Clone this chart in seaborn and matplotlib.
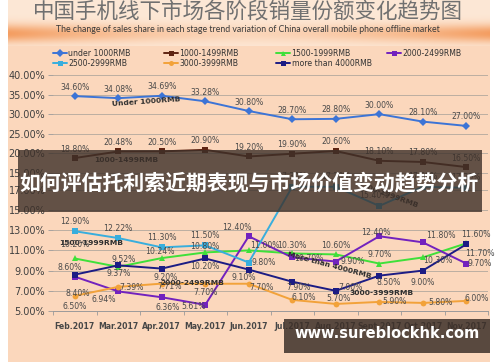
import numpy as np
import pandas as pd
import matplotlib
matplotlib.use("Agg")
import matplotlib.pyplot as plt
import seaborn as sns
from matplotlib.lines import Line2D
from matplotlib.patches import Rectangle

# ---------------- data ----------------
months = ['Feb.2017', 'Mar.2017', 'Apr.2017', 'May.2017', 'Jun.2017',
          'Jul.2017', 'Aug.2017', 'Sept.2017', 'Oct.2017', 'Nov.2017']
under_1000 = [34.60, 34.08, 34.69, 33.28, 30.80, 28.70, 28.80, 30.00, 28.10, 27.00]
p1000_1499 = [18.80, 20.48, 20.50, 20.90, 19.20, 19.90, 20.60, 18.10, 17.80, 16.50]
p1500_1999 = [10.20, 9.37, 10.24, 10.80, 11.00, 10.70, 10.60, 9.70, 10.30, 11.70]
p2000_2499 = [8.40, 6.94, 6.36, 5.61, 12.40, 10.30, 9.90, 12.40, 11.80, 9.70]
p2500_2999 = [12.90, 12.22, 11.30, 11.50, 9.80, 17.30, 17.30, 15.40, 17.30, 17.20]
p3000_3999 = [6.50, 7.39, 7.71, 7.70, 7.70, 6.10, 5.70, 5.90, 5.80, 6.00]
over_4000 = [8.60, 9.52, 9.20, 10.20, 9.10, 7.90, 7.00, 8.50, 9.00, 11.60]

series_names = ['under 1000RMB', '1000-1499RMB', '1500-1999RMB', '2000-2499RMB',
                '2500-2999RMB', '3000-3999RMB', 'more than 4000RMB']
series_values = [under_1000, p1000_1499, p1500_1999, p2000_2499,
                 p2500_2999, p3000_3999, over_4000]
top_series = series_names[:2]
bottom_series = series_names[2:]

title_cn = '中国手机线下市场各阶段销量份额变化趋势图'
title_en = 'The change of sales share in each stage trend variation of China overall mobile phone offline market'
banner_text = '如何评估托利索近期表现与市场价值变动趋势分析'
watermark_text = 'www.sureblockhk.com'

# ---------------- styles ----------------
colors = {'under 1000RMB': '#3C74D6', '1000-1499RMB': '#5E2412',
          '1500-1999RMB': '#3FE03A', '2000-2499RMB': '#7222BE',
          '2500-2999RMB': '#38AEDD', '3000-3999RMB': '#F2A23A',
          'more than 4000RMB': '#1C1C84'}
markers = {'under 1000RMB': 'D', '1000-1499RMB': 's', '1500-1999RMB': '^',
           '2000-2499RMB': 's', '2500-2999RMB': 's', '3000-3999RMB': 'o',
           'more than 4000RMB': 's'}
# data-label offsets in pixels (dx, dy)
label_offsets = {
    'under 1000RMB': [(0, 9)] * 10,
    '1000-1499RMB': [(0, 9)] * 10,
    '1500-1999RMB': [(0, 14), (0, -7), (-2, 7), (0, 6), (16, 5), (17, -5), (0, 9), (0, 9), (15, -3), (14, -10)],
    '2000-2499RMB': [(3, -17), (-14, -8), (6, -10), (-12, -2), (-12, 9), (0, 12), (17, 0), (-3, 4), (18, 7), (13, 0)],
    '2500-2999RMB': [(0, 10), (0, 10), (0, 10), (0, 10), (15, 0), (0, 10), (0, 10), (-5, 10), (0, 10), (0, 10)],
    '3000-3999RMB': [(0, -11), (13, -1), (8, -3), (0, -9), (13, -4), (12, 2), (3, 5), (15, 0), (18, 0), (10, 2)],
    'more than 4000RMB': [(-5, 7), (5, 6), (4, -9), (0, -8), (-5, -8), (6, -6), (15, 3), (9, -7), (0, -12), (10, 10)],
}

W, H = 500, 362
sns.set_theme(style='white')
plt.rcParams['font.family'] = ['DejaVu Sans', 'Noto Sans CJK SC']

fig = plt.figure(figsize=(W / 100, H / 100), dpi=100)
fig.patch.set_facecolor('white')

# background image (peach with orange title glow)
bg = fig.add_axes([0, 0, 1, 1])
bg.set_zorder(-5)
yy, xx = np.mgrid[0:H, 0:W]
base = np.array([251, 215, 188], float)
light = np.array([253, 232, 214], float)
orange = np.array([244, 158, 98], float)
img = np.zeros((H, W, 3)) + base
top_mask = yy < 46
v = np.exp(-((yy - 33) / 9.0) ** 2)
h = 0.25 + 0.75 * (np.abs(xx - 249) / 240.0) ** 1.6
s = np.clip(v * h, 0, 1)[..., None]
band = light * (1 - s) + orange * s
img = np.where(top_mask[..., None], band, img)
img[:, :8] = 255
img[:, 490:] = 255
bg.imshow(img.astype(np.uint8), extent=[0, W, H, 0], aspect='auto', interpolation='bilinear')
bg.set_xlim(0, W)
bg.set_ylim(H, 0)
bg.axis('off')

left, right = 53, 488
ax_top = fig.add_axes([left / W, (H - 180) / H, (right - left) / W, (180 - 73) / H])
ax_bot = fig.add_axes([left / W, (H - 311) / H, (right - left) / W, (311 - 180) / H])

def long_df(names):
    rows = []
    for n in names:
        vals = series_values[series_names.index(n)]
        for i, v in enumerate(vals):
            rows.append({'idx': i, 'value': v, 'series': n})
    return pd.DataFrame(rows)

for ax, names in ((ax_top, top_series), (ax_bot, bottom_series)):
    df = long_df(names)
    sns.lineplot(data=df, x='idx', y='value', hue='series', style='series',
                 hue_order=names, style_order=names,
                 palette={n: colors[n] for n in names},
                 markers={n: markers[n] for n in names}, dashes=False,
                 linewidth=1.4, markersize=4.2, markeredgewidth=0,
                 sort=False, legend=False, ax=ax)
    for n in names:
        vals = series_values[series_names.index(n)]
        for i, v in enumerate(vals):
            dx, dy = label_offsets[n][i]
            ax.annotate(f'{v:.2f}%', (i, v), xytext=(dx, dy), textcoords='offset pixels',
                        ha='center', va='center', fontsize=5.6, color='#4a4a4a', zorder=5)
    ax.set_facecolor('none')
    ax.set_xlim(-0.5, 9.5)
    ax.set_xlabel('')
    ax.set_ylabel('')
    for sp in ax.spines.values():
        sp.set_visible(False)
    ax.grid(axis='y', color='#BCAEA2', linewidth=0.7)
    ax.grid(axis='x', visible=False)
    ax.tick_params(axis='y', length=3.6, width=0.6, color='#9a9a9a', pad=2,
                   labelsize=7, labelcolor='#404040', left=True)

ax_top.set_ylim(13.2, 40.5)
ax_top.set_yticks([15, 20, 25, 30, 35, 40])
ax_top.set_yticklabels([f'{t:.2f}%' for t in [15, 20, 25, 30, 35, 40]])
ax_top.set_xticks([])

ax_bot.set_ylim(5, 17.97)
ax_bot.set_yticks([5, 7, 9, 11, 13, 15, 17])
ax_bot.set_yticklabels([f'{t:.2f}%' for t in [5, 7, 9, 11, 13, 15, 17]])
ax_bot.set_xticks(range(len(months)))
ax_bot.set_xticklabels(months, fontsize=5.6, fontweight='bold', color='#474747')
ax_bot.set_xticks(np.arange(-0.5, 10, 1), minor=True)
ax_bot.tick_params(axis='x', which='major', length=0, pad=8)
ax_bot.tick_params(axis='x', which='minor', length=3, width=0.6, color='#9a9a9a', bottom=True)
ax_bot.spines['bottom'].set_visible(True)
ax_bot.spines['bottom'].set_color('#9a9a9a')
ax_bot.spines['bottom'].set_linewidth(0.7)

# inline series name labels
lab_kw = dict(fontsize=5.4, fontweight='bold', color='#2e2e2e', ha='center', va='center')
ax_top.text(1.64, 33.1, 'Under 1000RMB', rotation=4, **lab_kw)
ax_top.text(1.18, 18.3, '1000-1499RMB', **lab_kw)
ax_bot.text(0.37, 11.73, '1500-1999RMB', **lab_kw)
ax_bot.text(2.70, 7.77, '2000-2499RMB', **lab_kw)
ax_bot.text(5.85, 9.55, 'More than 4000RMB', rotation=-15, **lab_kw)
ax_bot.text(7.06, 6.78, '3000-3999RMB', **lab_kw)
ax_bot.text(7.20, 16.5, '2500-2999RMB', rotation=-20, **lab_kw)

# titles
fig.text(248 / W, 1 - 12 / H, title_cn, fontsize=15.5, color='#707070',
         family=['Noto Sans CJK SC', 'DejaVu Sans'], ha='center', va='center')
fig.text(248 / W, 1 - 29 / H, title_en, fontsize=6.3, color='#3a3a3a',
         family=['Lato', 'DejaVu Sans'], ha='center', va='center')

# manual legend
col_x = [53, 164, 276, 387]
row_y = [53, 63]
for k, n in enumerate(series_names):
    r, c = divmod(k, 4)
    x0, y0 = col_x[c], row_y[r]
    fig.add_artist(Line2D([x0 / W, (x0 + 14) / W], [1 - y0 / H, 1 - y0 / H],
                          transform=fig.transFigure, color=colors[n], lw=1.4))
    fig.add_artist(Line2D([(x0 + 7) / W], [1 - y0 / H], transform=fig.transFigure,
                          color=colors[n], lw=0, marker=markers[n], markersize=3.6,
                          markeredgewidth=0))
    fig.text((x0 + 15.5) / W, 1 - y0 / H, n, fontsize=5.6, color='#333333',
             ha='left', va='center')

# overlay banner
fig.add_artist(Rectangle((18 / W, 1 - 212 / H), (482 - 18) / W, (212 - 150) / H,
                         transform=fig.transFigure, facecolor=(0.24, 0.19, 0.16),
                         alpha=0.8, edgecolor='none', zorder=20))
fig.text(249 / W, 1 - 183 / H, banner_text, fontsize=15, fontweight='bold', color='white',
         family=['Noto Sans CJK SC', 'DejaVu Sans'], ha='center', va='center', zorder=21)

# watermark
fig.add_artist(Rectangle((284 / W, 1 - 353 / H), (490 - 284) / W, (353 - 319) / H,
                         transform=fig.transFigure, facecolor=(0.24, 0.19, 0.16),
                         alpha=0.85, edgecolor='none', zorder=20))
fig.text(387 / W, 1 - 334 / H, watermark_text, fontsize=10.5, fontweight='bold',
         color='white', ha='center', va='center', zorder=21)

fig.savefig('out.png', dpi=100)
